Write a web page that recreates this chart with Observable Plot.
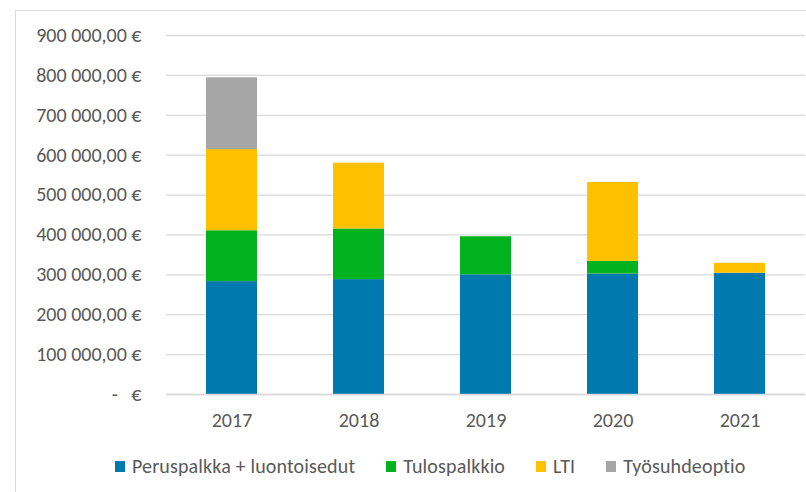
<!DOCTYPE html>
<html>
<head>
<meta charset="utf-8">
<script src="https://cdn.jsdelivr.net/npm/d3@7"></script>
<script src="https://cdn.jsdelivr.net/npm/@observablehq/plot@0.6"></script>
<style>
  html, body { margin: 0; padding: 0; background: #fff; }
  #wrap { position: relative; width: 806px; height: 492px; overflow: hidden; font-family: Carlito, Lato, "Open Sans", sans-serif; }
  #frame { position: absolute; left: 15px; top: 10px; width: 900px; height: 900px; border-left: 1px solid #d9d9d9; border-top: 1px solid #d9d9d9; box-sizing: border-box; }
  #chart { position: absolute; left: 0; top: 0; }
  #legend { position: absolute; left: 115px; top: 453px; height: 26px; display: flex; align-items: center; font-size: 20px; letter-spacing: 0.15px; color: #595959; white-space: nowrap; }
  .item { display: flex; align-items: center; margin-right: 31px; }
  .sw { width: 10px; height: 11px; margin-right: 7px; }
</style>
</head>
<body>
<div id="wrap">
  <div id="frame"></div>
  <div id="chart"></div>
  <div id="legend"></div>
</div>
<script>
const years = ["2017", "2018", "2019", "2020", "2021"];
const seriesNames = ["Peruspalkka + luontoisedut", "Tulospalkkio", "LTI", "Työsuhdeoptio"];
const seriesColors = ["#0079AF", "#00B31E", "#FFC000", "#A6A6A6"];
const peruspalkka = [283000, 288000, 300000, 302000, 304000];
const tulospalkkio = [127500, 127000, 95500, 31700, 0];
const lti = [203500, 165000, 0, 197700, 25000];
const tyosuhdeoptio = [180000, 0, 0, 0, 0];
const yTicks = [0, 100000, 200000, 300000, 400000, 500000, 600000, 700000, 800000, 900000];

const seriesValues = [peruspalkka, tulospalkkio, lti, tyosuhdeoptio];
const data = [];
seriesNames.forEach((s, si) => {
  years.forEach((y, yi) => {
    data.push({year: y, series: s, value: seriesValues[si][yi]});
  });
});

function fmt(v) {
  if (v === 0) return "-   €";
  const n = Math.round(v).toString().replace(/\B(?=(\d{3})+(?!\d))/g, " ");
  return n + ",00 €";
}

const chart = Plot.plot({
  width: 806,
  height: 440,
  marginLeft: 166,
  marginRight: 1,
  marginTop: 35,
  marginBottom: 46,
  style: {fontFamily: "Carlito, Lato, 'Open Sans', sans-serif", fontSize: "20px", color: "#595959", background: "transparent"},
  x: {domain: years, paddingInner: 0.6, paddingOuter: 0.3, align: 0.5, label: null},
  y: {domain: [0, 900000], label: null},
  color: {domain: seriesNames, range: seriesColors},
  marks: [
    Plot.gridY(yTicks, {stroke: "#d9d9d9", strokeOpacity: 1, strokeWidth: 1.3}),
    Plot.axisY(yTicks, {tickSize: 0, tickPadding: 25, tickFormat: fmt, fill: "#595959", label: null, fontSize: 20}),
    Plot.axisX({tickSize: 0, tickPadding: 18, fill: "#595959", label: null, fontSize: 20}),
    Plot.barY(data, {x: "year", y: "value", fill: "series", order: seriesNames}),
    Plot.ruleY([0], {stroke: "#d9d9d9", strokeWidth: 1.3})
  ]
});
document.getElementById("chart").appendChild(chart);

const legend = document.getElementById("legend");
seriesNames.forEach((s, i) => {
  const it = document.createElement("div");
  it.className = "item";
  const sw = document.createElement("div");
  sw.className = "sw";
  sw.style.background = seriesColors[i];
  const t = document.createElement("span");
  t.textContent = s;
  it.appendChild(sw);
  it.appendChild(t);
  legend.appendChild(it);
});
</script>
</body>
</html>
